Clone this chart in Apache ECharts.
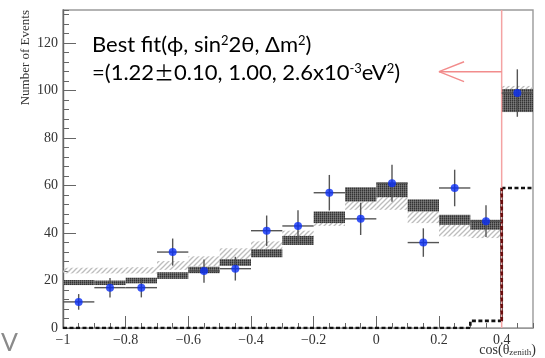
<!DOCTYPE html>
<html>
<head>
<meta charset="utf-8">
<script src="https://cdn.jsdelivr.net/npm/echarts@6/dist/echarts.min.js"></script>
<style>
  html, body { margin: 0; padding: 0; background: #fff; }
  #chart { width: 545px; height: 358px; }
</style>
</head>
<body>
<div id="chart"></div>
<script>
// Zenith-angle distribution: bins in cos(theta_zenith)
const binEdges = [-1.0, -0.9, -0.8, -0.7, -0.6, -0.5, -0.4, -0.3, -0.2, -0.1, 0.0, 0.1, 0.2, 0.3, 0.4, 0.5];

// Observed events and their statistical errors
const dataCounts = [11, 17, 17, 32, 24, 25, 41, 43, 57, 46, 61, 36, 59, 45, 99];
const dataErrors = [3.3, 4.1, 4.1, 5.7, 4.9, 5.0, 6.4, 6.6, 7.5, 6.8, 7.8, 6.0, 7.7, 6.7, 10.0];

// Best-fit expectation band (dense fill)
const bestFitLow  = [18.1, 18.1, 18.8, 20.7, 23.1, 26.2, 29.8, 35.0, 44.2, 53.3, 55.1, 49.1, 43.5, 41.4, 91.0];
const bestFitHigh = [20.2, 20.0, 21.2, 23.5, 25.8, 29.0, 33.2, 38.8, 49.1, 59.3, 61.3, 54.2, 47.7, 45.6, 100.7];

// Alternative expectation band (hatched)
const hatchLow  = [23.0, 23.0, 23.0, 24.5, 26.0, 29.0, 33.0, 38.0, 43.0, 49.8, 49.8, 44.2, 38.6, 37.9, 93.0];
const hatchHigh = [25.4, 25.4, 25.6, 28.2, 30.2, 33.6, 36.5, 41.0, 47.5, 53.4, 55.1, 49.1, 43.5, 41.4, 102.0];

// Dashed step histogram
const stepCounts = [0, 0, 0, 0, 0, 0, 0, 0, 0, 0, 0, 0, 0, 3, 59];

// Axis tick labels
const xTickValues = [-1, -0.8, -0.6, -0.4, -0.2, 0, 0.2, 0.4];
const xTickLabels = ['\u22121', '\u22120.8', '\u22120.6', '\u22120.4', '\u22120.2', '0', '0.2', '0.4'];
const yTickValues = [0, 20, 40, 60, 80, 100, 120];
const yTickLabels = ['0', '20', '40', '60', '80', '100', '120'];

// Cut position and the arrow pointing at the annotation
const cutValue = 0.4;
const arrowLevel = 108;
const arrowTip = 0.2;
const arrowWingDx = 0.08;
const arrowWingDy = 4.2;

const xMin = -1, xMax = 0.5, yMin = 0, yMax = 134;

function lookupLabel(values, labels, v) {
  for (let i = 0; i < values.length; i++) {
    if (Math.abs(values[i] - v) < 1e-6) return labels[i];
  }
  return '';
}

// Fill patterns
function hatchPattern() {
  const c = document.createElement('canvas');
  c.width = 5; c.height = 5;
  const g = c.getContext('2d');
  g.strokeStyle = '#bdbdbd';
  g.lineWidth = 1.3;
  g.beginPath(); g.moveTo(-1, 6); g.lineTo(6, -1); g.stroke();
  g.beginPath(); g.moveTo(-1, 1); g.lineTo(1, -1); g.stroke();
  g.beginPath(); g.moveTo(4, 6); g.lineTo(6, 4); g.stroke();
  return c;
}
function densePattern() {
  const c = document.createElement('canvas');
  c.width = 2; c.height = 2;
  const g = c.getContext('2d');
  g.fillStyle = '#333333'; g.fillRect(0, 0, 1, 1);
  g.fillStyle = '#666666'; g.fillRect(1, 0, 1, 1);
  g.fillStyle = '#555555'; g.fillRect(0, 1, 1, 1);
  g.fillStyle = '#7a7a7a'; g.fillRect(1, 1, 1, 1);
  return c;
}
const hatchFill = { image: hatchPattern(), repeat: 'repeat' };
const denseFill = { image: densePattern(), repeat: 'repeat' };

// Derived series data
const nBins = dataCounts.length;
const hatchBoxes = [], bestBoxes = [], points = [], errBars = [], stepLine = [];
for (let i = 0; i < nBins; i++) {
  const lo = binEdges[i], hi = binEdges[i + 1];
  const mid = (lo + hi) / 2;
  hatchBoxes.push([lo, hi, hatchLow[i], hatchHigh[i]]);
  bestBoxes.push([lo, hi, bestFitLow[i], bestFitHigh[i]]);
  points.push([mid, dataCounts[i]]);
  errBars.push([mid, dataCounts[i], dataErrors[i], (hi - lo) / 2]);
  stepLine.push([lo, stepCounts[i]], [hi, stepCounts[i]]);
}
const jumpIndex = binEdges.indexOf(cutValue);
const jumpLine = [[cutValue, stepCounts[jumpIndex - 1]], [cutValue, stepCounts[jumpIndex]]];

function boxRenderer(fill) {
  return function (params, api) {
    const p0 = api.coord([api.value(0), api.value(3)]);
    const p1 = api.coord([api.value(1), api.value(2)]);
    return {
      type: 'rect',
      shape: { x: p0[0], y: p0[1], width: p1[0] - p0[0], height: p1[1] - p0[1] },
      style: { fill: fill }
    };
  };
}

function errorRenderer(params, api) {
  const xc = api.value(0), y = api.value(1), e = api.value(2), hw = api.value(3);
  const top = api.coord([xc, y + e]), bot = api.coord([xc, y - e]);
  const l = api.coord([xc - hw, y]), r = api.coord([xc + hw, y]);
  const st = { stroke: '#555', lineWidth: 1.4 };
  return {
    type: 'group',
    children: [
      { type: 'line', shape: { x1: top[0], y1: top[1], x2: bot[0], y2: bot[1] }, style: st },
      { type: 'line', shape: { x1: l[0], y1: l[1], x2: r[0], y2: r[1] }, style: st }
    ]
  };
}

const serif = 'Liberation Serif';
const sans = 'Lato';

const chart = echarts.init(document.getElementById('chart'), null, { renderer: 'canvas' });

chart.setOption({
  animation: false,
  backgroundColor: '#fff',
  grid: {
    left: 63, right: 12, top: 10, bottom: 30,
    show: true, borderColor: '#9a9a9a', borderWidth: 1.4, backgroundColor: 'transparent'
  },
  xAxis: [
    {
      type: 'value', min: xMin, max: xMax, interval: 0.05, position: 'bottom',
      axisLine: { show: true, onZero: false, lineStyle: { color: '#999', width: 1 } },
      axisTick: { show: true, inside: true, length: 5, lineStyle: { color: '#666', width: 1 } },
      axisLabel: { show: false },
      splitLine: { show: false }
    },
    {
      type: 'value', min: xMin, max: xMax, interval: 0.2, position: 'bottom',
      axisLine: { show: false, onZero: false },
      axisTick: { show: true, inside: true, length: 12, lineStyle: { color: '#666', width: 1 } },
      axisLabel: {
        show: true, margin: 5, showMaxLabel: false,
        fontFamily: serif, fontSize: 14, color: '#333',
        formatter: v => lookupLabel(xTickValues, xTickLabels, v)
      },
      splitLine: { show: false }
    }
  ],
  yAxis: [
    {
      type: 'value', min: yMin, max: yMax, interval: 4, position: 'left',
      axisLine: { show: true, onZero: false, lineStyle: { color: '#666', width: 1.4 } },
      axisTick: { show: true, inside: true, length: 6, lineStyle: { color: '#666', width: 1 } },
      axisLabel: { show: false },
      splitLine: { show: false }
    },
    {
      type: 'value', min: yMin, max: yMax, interval: 20, position: 'left',
      axisLine: { show: false, onZero: false },
      axisTick: { show: true, inside: true, length: 13, lineStyle: { color: '#666', width: 1 } },
      axisLabel: {
        show: true, margin: 5, showMaxLabel: false,
        fontFamily: serif, fontSize: 14, color: '#333',
        formatter: v => lookupLabel(yTickValues, yTickLabels, v)
      },
      splitLine: { show: false }
    }
  ],
  series: [
    {
      name: 'hatched band', type: 'custom', xAxisIndex: 0, yAxisIndex: 0, z: 2,
      renderItem: boxRenderer(hatchFill), data: hatchBoxes,
      encode: { x: [0, 1], y: [2, 3] }, silent: true
    },
    {
      name: 'best fit', type: 'custom', xAxisIndex: 0, yAxisIndex: 0, z: 3,
      renderItem: boxRenderer(denseFill), data: bestBoxes,
      encode: { x: [0, 1], y: [2, 3] }, silent: true
    },
    {
      name: 'step', type: 'line', xAxisIndex: 0, yAxisIndex: 0, z: 4,
      data: stepLine, symbol: 'none', silent: true,
      lineStyle: { color: '#111', width: 2.6, type: [4, 2.5] }
    },
    {
      name: 'cut line', type: 'line', xAxisIndex: 0, yAxisIndex: 0, z: 4,
      data: [[cutValue, yMin], [cutValue, yMax]], symbol: 'none', silent: true,
      lineStyle: { color: '#f4a3a3', width: 1.5 }
    },
    {
      name: 'step jump', type: 'line', xAxisIndex: 0, yAxisIndex: 0, z: 5,
      data: jumpLine, symbol: 'none', silent: true,
      lineStyle: { color: '#6a0d0d', width: 2.8, type: [4, 2.5] }
    },
    {
      name: 'arrow', type: 'line', xAxisIndex: 0, yAxisIndex: 0, z: 5,
      data: [[cutValue, arrowLevel], [arrowTip, arrowLevel]], symbol: 'none', silent: true,
      lineStyle: { color: '#f28c8c', width: 1.4 }
    },
    {
      name: 'arrow head', type: 'line', xAxisIndex: 0, yAxisIndex: 0, z: 5,
      data: [[arrowTip + arrowWingDx, arrowLevel + arrowWingDy], [arrowTip, arrowLevel],
             [arrowTip + arrowWingDx, arrowLevel - arrowWingDy]],
      symbol: 'none', silent: true,
      lineStyle: { color: '#f28c8c', width: 1.4 }
    },
    {
      name: 'errors', type: 'custom', xAxisIndex: 0, yAxisIndex: 0, z: 6,
      renderItem: errorRenderer, data: errBars,
      encode: { x: 0, y: 1 }, silent: true
    },
    {
      name: 'data', type: 'scatter', xAxisIndex: 0, yAxisIndex: 0, z: 7,
      data: points, symbol: 'circle', symbolSize: 8, silent: true,
      itemStyle: { color: '#0a2ef5' }
    }
  ],
  graphic: [
    {
      type: 'text', x: 92, y: 34, z: 20,
      style: {
        text: '{t|Best fit(\u03d5, sin}{s|2}{t|2\u03b8, \u0394m}{s|2}{t|)}',
        fill: '#000',
        rich: {
          t: { fontFamily: sans, fontSize: 22, fill: '#000' },
          s: { fontFamily: sans, fontSize: 13, fill: '#000', verticalAlign: 'top' }
        }
      }
    },
    {
      type: 'text', x: 92, y: 62, z: 20,
      style: {
        text: '{t|=(1.22}{p|\u00b1}{t|0.10, 1.00, 2.6x10}{s|-3}{t|eV}{s|2}{t|)}',
        fill: '#000',
        rich: {
          t: { fontFamily: sans, fontSize: 22, fill: '#000' },
          p: { fontFamily: 'Noto Sans CJK JP', fontSize: 20, fill: '#000' },
          s: { fontFamily: sans, fontSize: 13, fill: '#000', verticalAlign: 'top' }
        }
      }
    },
    {
      type: 'text', x: 26, y: 10, rotation: Math.PI / 2, z: 20,
      style: {
        text: 'Number of Events', fontFamily: serif, fontSize: 13,
        fill: '#333', align: 'right', verticalAlign: 'middle'
      }
    },
    {
      type: 'text', x: 536, y: 343, z: 20,
      style: {
        text: '{t|cos(\u03b8}{u|zenith}{t|)}',
        align: 'right', verticalAlign: 'top', fill: '#333',
        rich: {
          t: { fontFamily: serif, fontSize: 14, fill: '#333' },
          u: { fontFamily: serif, fontSize: 9, fill: '#333', verticalAlign: 'bottom' }
        }
      }
    },
    {
      type: 'text', x: 1, y: 330, z: 20,
      style: { text: 'V', fontFamily: sans, fontSize: 25, fill: '#8a8a8a' }
    }
  ]
});
</script>
</body>
</html>
